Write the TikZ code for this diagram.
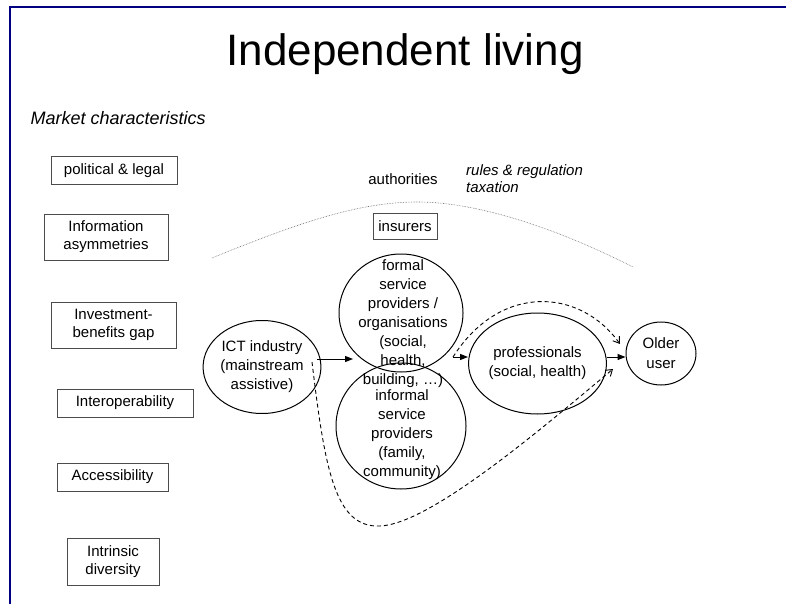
\documentclass[tikz,border=0pt]{standalone}
\usepackage{fontspec}
\setmainfont{Liberation Sans}
\usetikzlibrary{shapes.geometric}
\usetikzlibrary{arrows.meta}
\definecolor{framenavy}{RGB}{0,0,128}

\begin{document}
\begin{tikzpicture}[x=1pt,y=-1pt,
  factor/.style={draw=black!70, line width=1pt, align=center, inner sep=0pt, font=\fontsize{15}{18}\selectfont},
  oval/.style={draw, ellipse, line width=1pt, inner sep=0pt, align=center, font=\fontsize{15}{19}\selectfont},
  words/.style={inner sep=0pt, align=center, font=\fontsize{15}{19}\selectfont},
  flow/.style={-{Triangle[length=8pt,width=6pt]}, line width=1pt},
  side/.style={-{Straight Barb[length=6pt,width=8pt]}, dash pattern=on 4pt off 3pt, line width=0.9pt}]
\useasboundingbox (0,0) rectangle (786,604);
% frame
\draw[framenavy, line width=2pt] (10,604) -- (10,7) -- (790,7);
\node[anchor=base, font=\fontsize{44}{50}\selectfont] (title) at (405,66) {Independent living};
\node[anchor=base west, font=\fontsize{18}{22}\selectfont\itshape] (market) at (27,125) {Market characteristics};
% market characteristics
\node[factor, minimum width=126, minimum height=27] (pol) at (114,170.5) {political \& legal};
\node[factor, minimum width=124, minimum height=46] (info) at (106,237) {Information\\asymmetries};
\node[factor, minimum width=125, minimum height=46] (invest) at (113.5,325) {Investment-\\benefits gap};
\node[factor, minimum width=136, minimum height=28] (interop) at (125,403) {Interoperability};
\node[factor, minimum width=111, minimum height=28] (access) at (112.5,477) {Accessibility};
\node[factor, minimum width=92, minimum height=47] (intrinsic) at (113,561.5) {Intrinsic\\diversity};
% authorities
\node[words] (auth) at (403,179) {authorities};
\node[words, anchor=west, align=left, font=\fontsize{15}{17}\selectfont\itshape] (rules) at (466,178.5) {rules \& regulation\\taxation};
\draw[densely dotted, black!60, line width=0.6pt] (212,258) .. controls (300,222) and (360,202) .. (417,202)
  .. controls (480,202) and (560,230) .. (633,267);
\node[factor, minimum width=64, minimum height=26] (insurers) at (405,226) {insurers};
% actors
\node[oval, minimum width=100, minimum height=93] (ict) at (262,367) {ICT industry\\(mainstream\\assistive)};
\node[oval, minimum width=124, minimum height=118] (formal) at (401,313) {};
\node[oval, minimum width=130, minimum height=126] (informal) at (401,426) {};
\node[words] (formaltxt) at (403,323.5) {formal\\service\\providers /\\organisations\\(social,\\health,\\building, \dots)};
\node[words] (informaltxt) at (402,434.5) {informal\\service\\providers\\(family,\\community)};
\node[oval, minimum width=107, minimum height=101] (prof) at (537.5,363.5) {professionals\\(social, health)};
\node[oval, minimum width=70, minimum height=63, font=\fontsize{15}{20}\selectfont] (older) at (661,353.5) {Older\\user};
% connectors
\coordinate (ictout) at (317,359);
\coordinate (fin) at (353,359);
\coordinate (fout) at (453,357);
\coordinate (ictdash) at (312,362);
\coordinate (olderhi) at (620,344);
\coordinate (olderlo) at (613,369);
\draw[flow] (ictout) -- (fin);
\draw[flow] (fout) -- (prof.west |- fout);
\draw[flow] (prof.east |- fout) -- (older.west |- fout);
\draw[side] (fout) .. controls (500,283) and (580,288) .. (olderhi);
\draw[side] (ictdash) .. controls (325,470) and (335,528) .. (380,526)
  .. controls (430,524) and (540,430) .. (olderlo);
\end{tikzpicture}
\end{document}
